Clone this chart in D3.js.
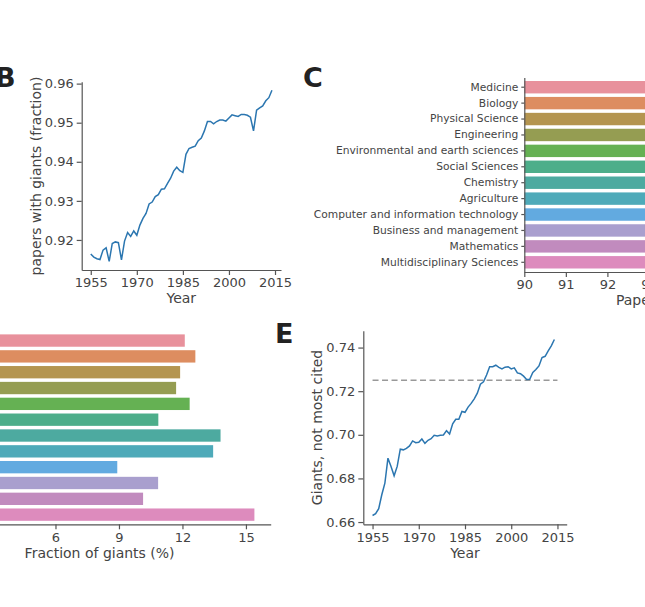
<!DOCTYPE html>
<html>
<head>
  <meta charset="utf-8">
  <title>Giants</title>
  <style>
    body { margin: 0; background: #fff; }
    svg { display: block; font-family: "DejaVu Sans", sans-serif; }
    .axis path, .axis line { stroke: #555; stroke-width: 1.2px; }
    .axis text { fill: #444; font-size: 13px; font-family: "DejaVu Sans", sans-serif; }
    .cat text { font-size: 10.7px; }
    .label { fill: #444; font-size: 14px; }
    .letter { fill: #222; font-size: 27px; font-weight: bold; }
    .line { fill: none; stroke: #2b76b0; stroke-width: 1.5px; }
  </style>
  <script src="https://d3js.org/d3.v7.min.js"></script>
</head>
<body>
<script>
  // ---- data ----
  var years = [1955,1956,1957,1958,1959,1960,1961,1962,1963,1964,
               1965,1966,1967,1968,1969,1970,1971,1972,1973,1974,
               1975,1976,1977,1978,1979,1980,1981,1982,1983,1984,
               1985,1986,1987,1988,1989,1990,1991,1992,1993,1994,
               1995,1996,1997,1998,1999,2000,2001,2002,2003,2004,
               2005,2006,2007,2008,2009,2010,2011,2012,2013,2014];

  // B: papers with giants (fraction)
  var withGiants = [0.9164,0.9156,0.9152,0.9150,0.9174,0.9180,0.9145,0.9191,0.9195,0.9193,
                    0.9149,0.9197,0.9219,0.9209,0.9223,0.9212,0.9238,0.9255,0.9268,0.9292,
                    0.9297,0.9311,0.9316,0.9330,0.9331,0.9345,0.9358,0.9376,0.9386,0.9377,
                    0.9373,0.9419,0.9434,0.9437,0.9440,0.9454,0.9461,0.9479,0.9503,0.9503,
                    0.9497,0.9503,0.9507,0.9507,0.9504,0.9512,0.9520,0.9518,0.9516,0.9521,
                    0.9521,0.9519,0.9514,0.9479,0.9532,0.9538,0.9543,0.9556,0.9564,0.9583];

  // E: giants, not most cited
  var notMostCited = [0.6630,0.6638,0.6661,0.6725,0.6778,0.6893,0.6855,0.6812,0.6855,0.6934,
                      0.6931,0.6938,0.6949,0.6972,0.6964,0.6966,0.6981,0.6961,0.6975,0.6982,
                      0.6998,0.6995,0.6998,0.6999,0.7019,0.7004,0.7050,0.7071,0.7071,0.7107,
                      0.7103,0.7127,0.7144,0.7165,0.7191,0.7232,0.7243,0.7274,0.7312,0.7312,
                      0.7319,0.7309,0.7302,0.7310,0.7312,0.7302,0.7307,0.7284,0.7280,0.7269,
                      0.7254,0.7255,0.7286,0.7299,0.7316,0.7354,0.7360,0.7385,0.7408,0.7437];
  var refLevel = 0.725;
  var refYears = [1955, 2015];

  var fields = ["Medicine","Biology","Physical Science","Engineering",
                "Environmental and earth sciences","Social Sciences","Chemistry",
                "Agriculture","Computer and information technology",
                "Business and management","Mathematics","Multidisciplinary Sciences"];
  // C: papers with giants (%) -- bars run past the visible edge
  var papersPct = [96.5,96.8,95.9,94.7,95.6,93.9,96.1,95.8,94.1,94.2,94.6,97.1];
  // D: fraction of giants (%)
  var giantsPct = [12.11,12.61,11.89,11.70,12.34,10.86,13.80,13.45,8.92,10.85,10.14,15.40];
  var fieldColors = ["#e8919c","#dd8d60","#b49550","#959d52","#65b153","#4dae8a",
                     "#4daaa0","#4eaab9","#62aae0","#a99fce","#c18bbe","#dd8bbd"];

  var width = 645, height = 607;
  var svg = d3.select("body").append("svg")
    .attr("width", width).attr("height", height);

  function pad(ext, f) {
    var d = (ext[1] - ext[0]) * f;
    return [ext[0] - d, ext[1] + d];
  }
  // drop d3's default axis font so the css one applies
  function tidy(sel) {
    sel.attr("font-family", null).attr("font-size", null);
    sel.selectAll(".tick line").attr("stroke", "#555");
  }

  // ---- B ----
  var bx = d3.scaleLinear().domain(pad(d3.extent(years), 0.05)).range([81.7, 281]);
  var by = d3.scaleLinear().domain(pad(d3.extent(withGiants), 0.05)).range([270, 81.7]);
  svg.append("g").attr("class", "axis").attr("transform", "translate(0,270)")
    .call(d3.axisBottom(bx).tickValues([1955,1970,1985,2000,2015]).tickFormat(d3.format("d"))
      .tickSize(5).tickSizeOuter(0).tickPadding(3)).call(tidy);
  svg.append("g").attr("class", "axis").attr("transform", "translate(81.7,0)")
    .call(d3.axisLeft(by).tickValues([0.92,0.93,0.94,0.95,0.96]).tickFormat(d3.format(".2f"))
      .tickSize(5).tickSizeOuter(0).tickPadding(3)).call(tidy);
  svg.append("path").datum(years)
    .attr("class", "line")
    .attr("d", d3.line().x(function(d) { return bx(d); }).y(function(d, i) { return by(withGiants[i]); }));
  svg.append("text").attr("class", "label").attr("x", 181.3).attr("y", 303)
    .attr("text-anchor", "middle").text("Year");
  svg.append("text").attr("class", "label")
    .attr("transform", "translate(40.5,176) rotate(-90)")
    .attr("text-anchor", "middle").text("papers with giants (fraction)");
  svg.append("text").attr("class", "letter").attr("x", -5).attr("y", 87).text("B");

  // ---- C ----
  var cx = d3.scaleLinear().domain([90, 98.2]).range([524.3, 865]);
  var cy = d3.scaleBand().domain(fields).range([77.5, 272]).padding(0.22);
  svg.append("g").selectAll("rect").data(fields).enter().append("rect")
    .attr("x", cx(90))
    .attr("y", function(d) { return cy(d); })
    .attr("width", function(d, i) { return cx(papersPct[i]) - cx(90); })
    .attr("height", cy.bandwidth())
    .attr("fill", function(d, i) { return fieldColors[i]; });
  svg.append("g").attr("class", "axis").attr("transform", "translate(0,272)")
    .call(d3.axisBottom(cx).tickValues([90,91,92,93,94,95,96,97,98]).tickFormat(d3.format("d"))
      .tickSize(5).tickSizeOuter(0).tickPadding(3)).call(tidy);
  svg.append("g").attr("class", "axis cat").attr("transform", "translate(524.3,0)")
    .call(d3.axisLeft(cy).tickSize(3).tickSizeOuter(0).tickPadding(3)).call(tidy);
  svg.append("text").attr("class", "label").attr("x", 694.6).attr("y", 305)
    .attr("text-anchor", "middle").text("Papers with giants (%)");
  svg.append("text").attr("class", "letter").attr("x", 303).attr("y", 87).text("C");

  // ---- D ----
  var dx = d3.scaleLinear().domain([0, d3.max(giantsPct) * 1.05]).range([-71.5, 270.7]);
  var dy = d3.scaleBand().domain(fields).range([330.9, 524.3]).padding(0.22);
  svg.append("g").selectAll("rect").data(fields).enter().append("rect")
    .attr("x", dx(0))
    .attr("y", function(d) { return dy(d); })
    .attr("width", function(d, i) { return dx(giantsPct[i]) - dx(0); })
    .attr("height", dy.bandwidth())
    .attr("fill", function(d, i) { return fieldColors[i]; });
  svg.append("g").attr("class", "axis").attr("transform", "translate(0,524.3)")
    .call(d3.axisBottom(dx).tickValues([0,3,6,9,12,15]).tickFormat(d3.format("d"))
      .tickSize(5).tickSizeOuter(0).tickPadding(3)).call(tidy);
  svg.append("text").attr("class", "label").attr("x", 99.6).attr("y", 558)
    .attr("text-anchor", "middle").text("Fraction of giants (%)");

  // ---- E ----
  var ex = d3.scaleLinear().domain(pad(d3.extent(refYears), 0.05)).range([363.3, 566.7]);
  var ey = d3.scaleLinear().domain(pad(d3.extent(notMostCited), 0.05)).range([524.3, 330.7]);
  svg.append("g").attr("class", "axis").attr("transform", "translate(0,524.3)")
    .call(d3.axisBottom(ex).tickValues([1955,1970,1985,2000,2015]).tickFormat(d3.format("d"))
      .tickSize(5).tickSizeOuter(0).tickPadding(3)).call(tidy);
  svg.append("g").attr("class", "axis").attr("transform", "translate(363.3,0)")
    .call(d3.axisLeft(ey).tickValues([0.66,0.68,0.70,0.72,0.74]).tickFormat(d3.format(".2f"))
      .tickSize(5).tickSizeOuter(0).tickPadding(3)).call(tidy);
  svg.append("line")
    .attr("x1", ex(refYears[0])).attr("x2", ex(refYears[1]))
    .attr("y1", ey(refLevel)).attr("y2", ey(refLevel))
    .attr("stroke", "#999").attr("stroke-width", 1.5).attr("stroke-dasharray", "6,3.5");
  svg.append("path").datum(years)
    .attr("class", "line")
    .attr("d", d3.line().x(function(d) { return ex(d); }).y(function(d, i) { return ey(notMostCited[i]); }));
  svg.append("text").attr("class", "label").attr("x", 465).attr("y", 558)
    .attr("text-anchor", "middle").text("Year");
  svg.append("text").attr("class", "label")
    .attr("transform", "translate(321.5,427.5) rotate(-90)")
    .attr("text-anchor", "middle").text("Giants, not most cited");
  svg.append("text").attr("class", "letter").attr("x", 275).attr("y", 343).text("E");
</script>
</body>
</html>
